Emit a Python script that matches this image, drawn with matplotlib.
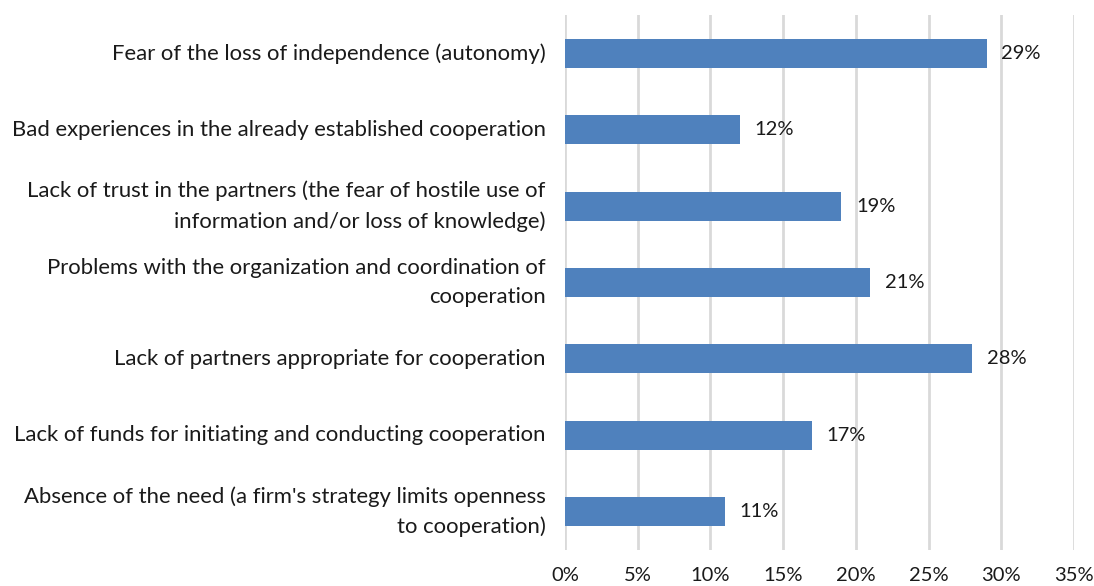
import matplotlib
matplotlib.use("Agg")
import matplotlib.pyplot as plt
from matplotlib.ticker import FuncFormatter, MultipleLocator

categories = [
    "Fear of the loss of independence (autonomy)",
    "Bad experiences in the already established cooperation",
    "Lack of trust in the partners (the fear of hostile use of\ninformation and/or loss of knowledge)",
    "Problems with the organization and coordination of\ncooperation",
    "Lack of partners appropriate for cooperation",
    "Lack of funds for initiating and conducting cooperation",
    "Absence of the need (a firm's strategy limits openness\nto cooperation)",
]
values = [29, 12, 19, 21, 28, 17, 11]

plt.rcParams["font.family"] = ["Lato", "DejaVu Sans"]

fig = plt.figure(figsize=(10.94, 5.86), dpi=100)
ax = fig.add_axes([0.5165, 0.0614, 0.4652, 0.913])

pos = list(range(len(categories)))
ax.barh(pos, values, height=0.38, color="#4F81BD", zorder=3)

for p, v in zip(pos, values):
    ax.text(v + 1.0, p, f"{v}%", va="center", ha="left", fontsize=14.5, color="#1a1a1a")

ax.set_xlim(0, 35)
ax.set_ylim(len(categories) - 0.5, -0.5)
ax.xaxis.set_major_locator(MultipleLocator(5))
ax.xaxis.set_major_formatter(FuncFormatter(lambda x, _: f"{x:.0f}%"))
ax.set_yticks(pos)
ax.set_yticklabels(categories, fontsize=15.9, color="#1a1a1a", linespacing=1.6, va="center")
ax.tick_params(axis="y", length=0, pad=14)
ax.tick_params(axis="x", length=0, pad=12, labelsize=14.5, labelcolor="#1a1a1a")

ax.grid(axis="x", color="#D9D9D9", linewidth=2, zorder=0)
for s in ax.spines.values():
    s.set_visible(False)

fig.savefig("out.png", dpi=100)
